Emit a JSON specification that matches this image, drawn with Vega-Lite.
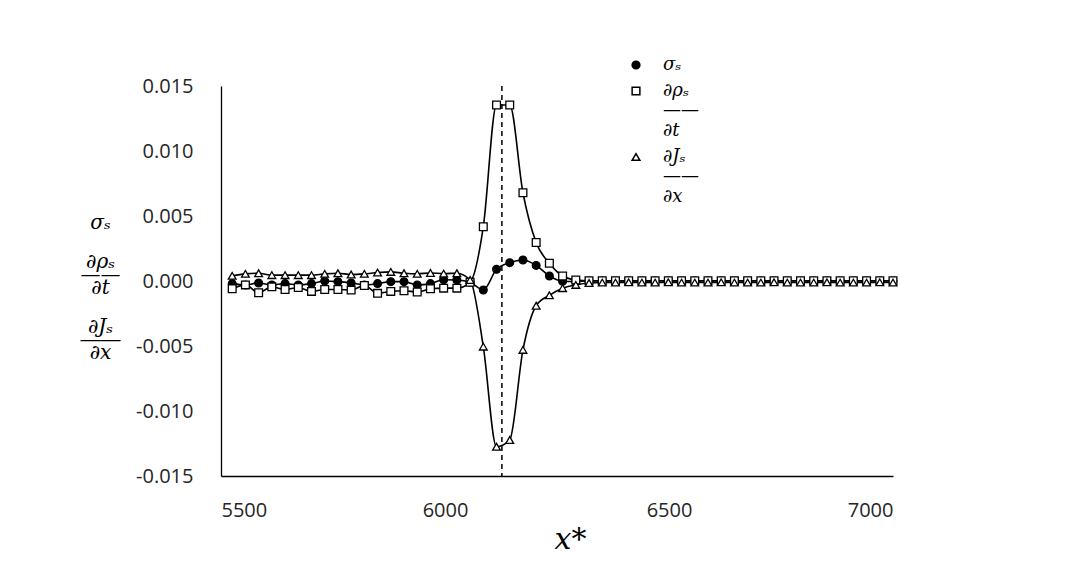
{
  "$schema": "https://vega.github.io/schema/vega-lite/v6.json",
  "width": 672,
  "height": 390,
  "autosize": {"type": "none"},
  "padding": {"left": 221, "top": 86, "right": 183, "bottom": 97},
  "background": "white",
  "config": {
    "view": {"stroke": null},
    "axis": {"grid": false, "domainColor": "black", "domainWidth": 1.3, "labelColor": "#262626", "labelFont": "Open Sans", "labelFontSize": 20, "tickColor": "black", "tickWidth": 1.3}
  },
  "datasets": {
    "series": [
      {"x": 5525, "sigma": -0.0002, "drho": -0.0006, "dJ": 0.0004},
      {"x": 5554.5, "sigma": -0.0003, "drho": -0.0003, "dJ": 0.00055},
      {"x": 5584, "sigma": -0.00015, "drho": -0.0009, "dJ": 0.0006},
      {"x": 5613.5, "sigma": -0.0003, "drho": -0.00045, "dJ": 0.00045},
      {"x": 5643, "sigma": -0.0002, "drho": -0.00065, "dJ": 0.00045},
      {"x": 5672.5, "sigma": -0.0003, "drho": -0.0005, "dJ": 0.00045},
      {"x": 5702, "sigma": -0.0002, "drho": -0.0008, "dJ": 0.00045},
      {"x": 5731.5, "sigma": 0.0, "drho": -0.00065, "dJ": 0.00055},
      {"x": 5761, "sigma": -0.00005, "drho": -0.00065, "dJ": 0.0006},
      {"x": 5790.5, "sigma": -0.00015, "drho": -0.0007, "dJ": 0.0005},
      {"x": 5820, "sigma": -0.0003, "drho": -0.00035, "dJ": 0.00055},
      {"x": 5849.5, "sigma": -0.0002, "drho": -0.00095, "dJ": 0.00065},
      {"x": 5879, "sigma": -0.00005, "drho": -0.0008, "dJ": 0.0007},
      {"x": 5908.5, "sigma": -0.00005, "drho": -0.00075, "dJ": 0.0006},
      {"x": 5938, "sigma": -0.0003, "drho": -0.00085, "dJ": 0.00055},
      {"x": 5967.5, "sigma": -0.0002, "drho": -0.0006, "dJ": 0.00062},
      {"x": 5997, "sigma": 0.0001, "drho": -0.00055, "dJ": 0.00057},
      {"x": 6026.5, "sigma": 0.00008, "drho": -0.00055, "dJ": 0.0006},
      {"x": 6056, "sigma": -0.0001, "drho": -0.0001, "dJ": 0.00008},
      {"x": 6085.5, "sigma": -0.00069, "drho": 0.00418, "dJ": -0.00505},
      {"x": 6115, "sigma": 0.0009, "drho": 0.01354, "dJ": -0.01275},
      {"x": 6144.5, "sigma": 0.00141, "drho": 0.01354, "dJ": -0.01223},
      {"x": 6174, "sigma": 0.00162, "drho": 0.00679, "dJ": -0.0053},
      {"x": 6203.5, "sigma": 0.0012, "drho": 0.00296, "dJ": -0.0019},
      {"x": 6233, "sigma": 0.00038, "drho": 0.00136, "dJ": -0.0011},
      {"x": 6262.5, "sigma": -0.00002, "drho": 0.00038, "dJ": -0.00055},
      {"x": 6292, "sigma": -0.00005, "drho": 0.00008, "dJ": -0.0003},
      {"x": 6321.5, "sigma": 0.0, "drho": 0.00002, "dJ": -0.00015},
      {"x": 6351, "sigma": 0.0, "drho": 0.00002, "dJ": -0.00012},
      {"x": 6380.5, "sigma": 0.0, "drho": 0.00002, "dJ": -0.00012},
      {"x": 6410, "sigma": 0.0, "drho": 0.00002, "dJ": -0.0001},
      {"x": 6439.5, "sigma": 0.0, "drho": 0.00002, "dJ": -0.00012},
      {"x": 6469, "sigma": 0.0, "drho": 0.00002, "dJ": -0.00012},
      {"x": 6498.5, "sigma": 0.0, "drho": 0.00002, "dJ": -0.0001},
      {"x": 6528, "sigma": 0.0, "drho": 0.00002, "dJ": -0.00012},
      {"x": 6557.5, "sigma": 0.0, "drho": 0.00002, "dJ": -0.00012},
      {"x": 6587, "sigma": 0.0, "drho": 0.00002, "dJ": -0.00012},
      {"x": 6616.5, "sigma": 0.0, "drho": 0.00002, "dJ": -0.0001},
      {"x": 6646, "sigma": 0.0, "drho": 0.00002, "dJ": -0.00012},
      {"x": 6675.5, "sigma": 0.0, "drho": 0.00002, "dJ": -0.00012},
      {"x": 6705, "sigma": 0.0, "drho": 0.00002, "dJ": -0.00012},
      {"x": 6734.5, "sigma": 0.0, "drho": 0.00002, "dJ": -0.0001},
      {"x": 6764, "sigma": 0.0, "drho": 0.00002, "dJ": -0.00012},
      {"x": 6793.5, "sigma": 0.0, "drho": 0.00002, "dJ": -0.00012},
      {"x": 6823, "sigma": 0.0, "drho": 0.00002, "dJ": -0.00012},
      {"x": 6852.5, "sigma": 0.0, "drho": 0.00002, "dJ": -0.0001},
      {"x": 6882, "sigma": 0.0, "drho": 0.00002, "dJ": -0.00012},
      {"x": 6911.5, "sigma": 0.0, "drho": 0.00002, "dJ": -0.00012},
      {"x": 6941, "sigma": 0.0, "drho": 0.00002, "dJ": -0.00012},
      {"x": 6970.5, "sigma": 0.0, "drho": 0.00002, "dJ": -0.0001},
      {"x": 7000, "sigma": 0.0, "drho": 0.00002, "dJ": -0.00012}
    ],
    "marker": [{"x": 6127}]
  },
  "layer": [
    {
      "data": {"name": "marker"},
      "mark": {"type": "rule", "strokeDash": [5, 4], "strokeWidth": 1.5, "color": "black"},
      "encoding": {
        "x": {"field": "x", "type": "quantitative", "scale": {"domain": [5500, 7000], "nice": false}}
      }
    },
    {
      "data": {"name": "series"},
      "transform": [{"fold": ["sigma", "drho", "dJ"], "as": ["series", "y"]}],
      "layer": [
        {
          "mark": {"type": "line", "interpolate": "monotone", "color": "black", "strokeWidth": 1.6},
          "encoding": {
            "x": {"field": "x", "type": "quantitative", "scale": {"domain": [5500, 7000], "nice": false},
              "axis": {"values": [5500, 6000, 6500, 7000], "format": "d", "ticks": false, "labelPadding": 24,
                "title": "x*", "titleFont": "DejaVu Serif", "titleFontStyle": "italic", "titleFontWeight": "normal", "titleFontSize": 30, "titleColor": "black", "titlePadding": 4, "titleX": 349}},
            "y": {"field": "y", "type": "quantitative", "scale": {"domain": [-0.015, 0.015], "nice": false},
              "axis": {"values": [-0.015, -0.01, -0.005, 0, 0.005, 0.01, 0.015], "labelExpr": "replace(format(datum.value, '.3f'), '−', '-')", "ticks": false, "labelPadding": 28,
                "title": ["σₛ", "\u200b", "\u2800", "∂ρₛ", "——", "∂t", "\u200b\u200b", "\u2800\u2800", "∂Jₛ", "――", "∂x"],
                "titleAngle": 0, "titleAlign": "center", "titleBaseline": "middle", "titleX": -121, "titleY": 136,
                "titleFont": "DejaVu Serif", "titleFontStyle": "italic", "titleFontWeight": "normal", "titleFontSize": 20, "titleColor": "black", "titleLineHeight": 13}},
            "detail": {"field": "series", "type": "nominal"}
          }
        },
        {
          "mark": {"type": "point", "strokeWidth": 1.3, "opacity": 1, "size": 60},
          "encoding": {
            "x": {"field": "x", "type": "quantitative", "scale": {"domain": [5500, 7000], "nice": false}},
            "y": {"field": "y", "type": "quantitative", "scale": {"domain": [-0.015, 0.015], "nice": false}},
            "shape": {"field": "series", "type": "nominal",
              "scale": {"domain": ["sigma", "drho", "dJ"], "range": ["circle", "square", "triangle-up"]},
              "legend": {"orient": "none", "legendX": 406, "legendY": -30, "title": null, "padding": 0,
                "labelExpr": "datum.value == 'sigma' ? 'σₛ' : datum.value == 'drho' ? ['∂ρₛ', '——', '∂t'] : ['∂Jₛ', '——', '∂x']",
                "labelFont": "DejaVu Serif", "labelFontStyle": "italic", "labelFontSize": 18, "labelColor": "black", "labelOffset": 18, "labelLimit": 300, "labelBaseline": "middle",
                "rowPadding": 8, "symbolSize": 60, "symbolStrokeWidth": 1.5}},
            "fill": {"field": "series", "type": "nominal",
              "scale": {"domain": ["sigma", "drho", "dJ"], "range": ["black", "white", "white"]},
              "legend": {"orient": "none", "legendX": 406, "legendY": -30, "title": null, "padding": 0,
                "labelExpr": "datum.value == 'sigma' ? 'σₛ' : datum.value == 'drho' ? ['∂ρₛ', '——', '∂t'] : ['∂Jₛ', '——', '∂x']",
                "labelFont": "DejaVu Serif", "labelFontStyle": "italic", "labelFontSize": 18, "labelColor": "black", "labelOffset": 18, "labelLimit": 300, "labelBaseline": "middle",
                "rowPadding": 8, "symbolSize": 60, "symbolStrokeWidth": 1.5}},
            "stroke": {"field": "series", "type": "nominal",
              "scale": {"domain": ["sigma", "drho", "dJ"], "range": ["black", "black", "black"]},
              "legend": {"orient": "none", "legendX": 406, "legendY": -30, "title": null, "padding": 0,
                "labelExpr": "datum.value == 'sigma' ? 'σₛ' : datum.value == 'drho' ? ['∂ρₛ', '——', '∂t'] : ['∂Jₛ', '——', '∂x']",
                "labelFont": "DejaVu Serif", "labelFontStyle": "italic", "labelFontSize": 18, "labelColor": "black", "labelOffset": 18, "labelLimit": 300, "labelBaseline": "middle",
                "rowPadding": 8, "symbolSize": 60, "symbolStrokeWidth": 1.5}}
          }
        }
      ]
    }
  ]
}
